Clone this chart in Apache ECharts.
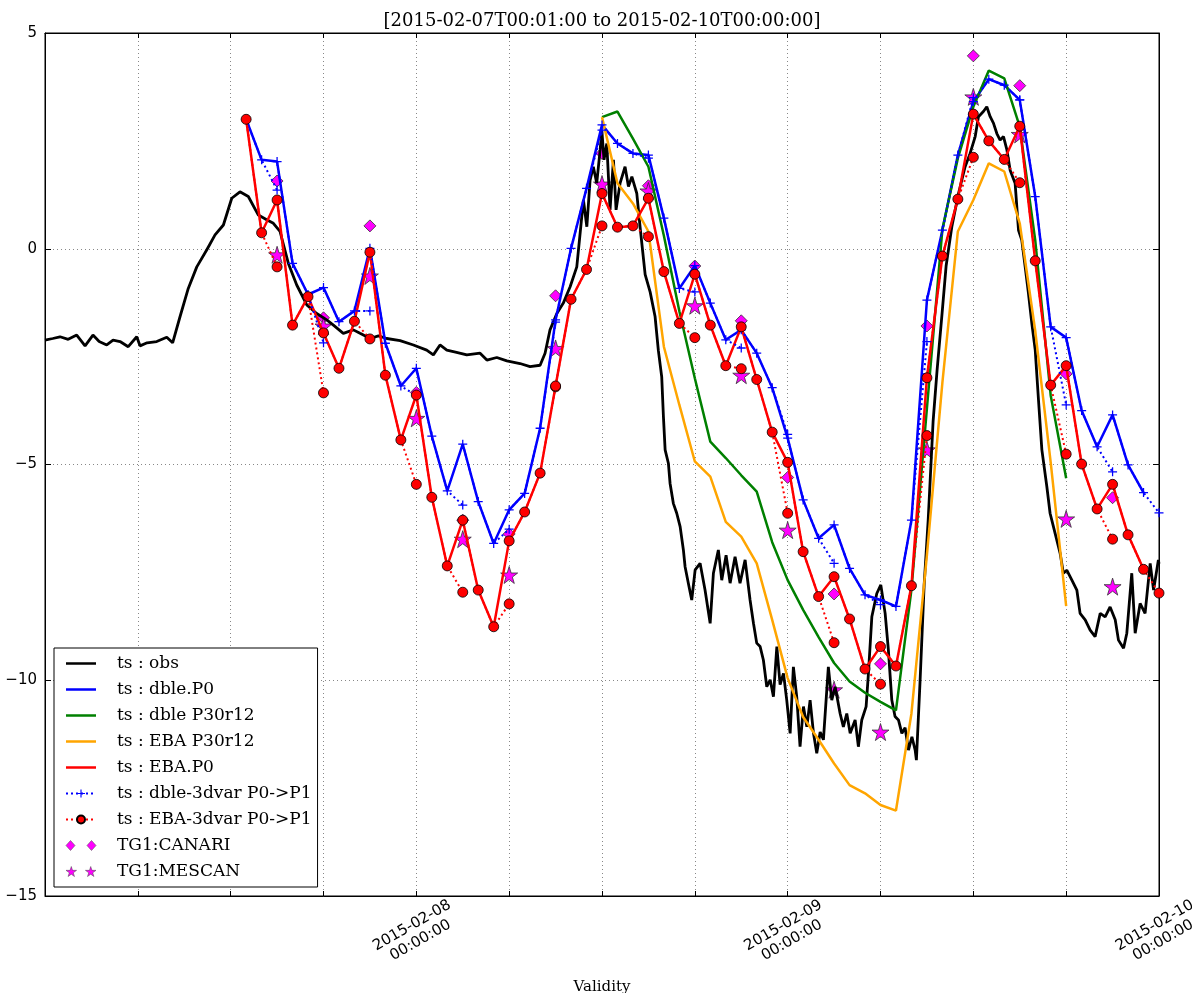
<!DOCTYPE html>
<html>
<head>
<meta charset="utf-8">
<title>ts TG1</title>
<script src="https://cdn.jsdelivr.net/npm/echarts@6/dist/echarts.min.js"></script>
<style>
  html, body { margin: 0; padding: 0; background: #fff; overflow: hidden; }
  #main { width: 1192px; height: 993px; }
</style>
</head>
<body>
<div id="main"></div>
<script>
// hours since 2015-02-07 00:00
var obsHours = [0.00,0.50,0.97,1.50,2.05,2.59,3.10,3.50,3.99,4.40,4.85,5.38,5.93,6.14,6.60,7.22,7.87,8.25,8.73,9.26,
  9.81,10.45,10.99,11.53,12.07,12.60,13.14,13.79,14.30,14.76,15.19,15.73,16.27,16.92,17.56,18.21,18.64,19.28,19.93,20.36,
  21.01,21.55,22.09,22.95,23.81,24.67,25.10,25.53,25.97,26.60,27.26,28.12,28.56,29.20,29.85,30.70,31.35,32.00,32.32,32.64,
  33.08,33.50,33.94,34.37,34.80,35.02,35.23,35.44,35.66,35.88,35.99,36.13,36.31,36.52,36.74,36.91,37.17,37.49,37.71,37.93,
  38.25,38.46,38.79,39.11,39.43,39.64,39.86,39.97,40.08,40.29,40.40,40.61,40.83,41.05,41.26,41.37,41.58,41.80,42.02,42.34,
  42.66,42.99,43.20,43.52,43.74,44.02,44.28,44.60,44.92,45.25,45.57,45.79,46.00,46.22,46.43,46.65,46.87,47.08,47.30,47.51,
  47.73,47.94,48.16,48.37,48.59,48.80,49.02,49.24,49.45,49.67,49.88,50.10,50.31,50.63,50.85,51.07,51.39,51.60,51.82,52.04,
  52.36,52.57,52.79,53.07,53.22,53.44,53.76,54.02,54.30,54.51,54.73,54.94,55.16,55.38,55.59,55.81,56.03,56.24,56.32,56.56,
  56.82,57.08,57.40,57.66,57.98,58.24,58.61,59.04,59.47,59.79,60.12,60.33,60.65,60.87,61.09,61.30,61.52,61.73,61.95,62.17,
  62.38,62.70,62.92,63.13,63.35,63.56,63.78,64.00,64.21,64.43,64.75,64.96,65.29,65.61,65.82,66.04,66.37,66.69,66.90,67.23,
  67.55,67.87,68.20,68.52,68.84,69.17,69.38,69.71,69.92,70.24,70.46,70.78,71.10,71.43,71.65,71.96,72.00];
var obsValues = [-2.12,-2.08,-2.04,-2.10,-2.00,-2.25,-2.00,-2.15,-2.23,-2.12,-2.15,-2.27,-2.04,-2.25,-2.18,-2.15,-2.05,-2.18,-1.57,-0.92,
  -0.42,-0.03,0.32,0.55,1.17,1.32,1.21,0.78,0.68,0.59,0.40,-0.34,-0.84,-1.30,-1.50,-1.65,-1.77,-1.96,-1.88,-1.96,
  -2.08,-2.02,-2.08,-2.13,-2.23,-2.35,-2.46,-2.23,-2.35,-2.40,-2.46,-2.42,-2.58,-2.52,-2.60,-2.66,-2.73,-2.70,-2.42,-1.88,
  -1.50,-1.26,-0.88,-0.42,1.13,0.51,1.59,1.90,1.52,2.29,2.75,2.06,2.44,0.90,2.06,0.90,1.52,1.90,1.44,1.67,
  1.28,0.51,-0.60,-1.00,-1.57,-2.35,-2.97,-3.89,-4.66,-4.97,-5.44,-5.90,-6.13,-6.44,-6.98,-7.37,-7.75,-8.14,-7.44,-7.29,
  -7.91,-8.68,-7.52,-6.98,-7.68,-7.10,-7.75,-7.14,-7.75,-7.21,-8.14,-8.68,-9.14,-9.22,-9.53,-10.15,-9.99,-10.38,-9.22,-10.10,
  -9.84,-10.46,-11.23,-9.69,-10.40,-11.54,-10.61,-11.08,-10.46,-11.23,-11.69,-11.20,-11.38,-9.69,-10.46,-10.15,-10.77,-11.08,-10.77,-11.23,
  -10.92,-11.54,-10.92,-10.61,-9.84,-8.53,-7.99,-7.79,-8.45,-9.30,-10.46,-10.84,-10.92,-11.23,-11.10,-11.62,-11.31,-11.62,-11.85,-10.00,
  -7.80,-6.30,-4.00,-2.80,-1.50,-0.40,0.51,1.28,1.90,2.21,2.60,3.06,3.18,3.29,3.06,2.91,2.67,2.52,2.60,2.29,
  1.82,1.52,0.43,0.20,-0.42,-1.03,-1.73,-2.35,-3.50,-4.66,-5.51,-6.13,-6.60,-7.06,-7.52,-7.45,-7.68,-7.91,-8.45,-8.60,
  -8.84,-8.99,-8.45,-8.53,-8.30,-8.60,-9.07,-9.26,-8.91,-7.52,-8.91,-8.22,-8.45,-7.29,-7.91,-7.21,-7.30];

// hourly P0 runs, from hour 13 to hour 71
var p0StartHour = 13;
var dbleP0 = [3.0,2.06,2.02,-0.34,-1.06,-0.9,-1.69,-1.44,0.01,-2.19,
  -3.18,-2.77,-4.34,-5.61,-4.53,-5.86,-6.83,-6.05,-5.67,-4.16,
  -1.65,0.01,1.4,2.87,2.44,2.21,2.17,0.71,-0.92,-0.39,
  -1.26,-2.11,-1.88,-2.42,-3.22,-4.39,-5.82,-6.71,-6.4,-7.41,
  -8.02,-8.14,-8.29,-6.29,-1.19,0.43,2.17,3.41,3.93,3.79,
  3.45,1.21,-1.81,-2.06,-3.75,-4.59,-3.85,-5.01,-5.65];
var ebaP0 = [3.0,0.37,1.13,-1.77,-1.11,-1.95,-2.77,-1.68,-0.08,-2.93,
  -4.43,-3.39,-5.76,-7.35,-6.29,-7.91,-8.76,-6.77,-6.1,-5.2,
  -3.18,-1.17,-0.48,1.28,0.5,0.53,1.17,-0.53,-1.73,-0.59,
  -1.77,-2.71,-1.81,-3.03,-4.25,-4.95,-7.02,-8.06,-7.6,-8.58,
  -9.74,-9.22,-9.67,-7.81,-2.99,-0.17,1.15,3.12,2.5,2.07,
  2.84,-0.28,-3.16,-2.71,-4.99,-6.03,-5.46,-6.63,-7.43];

// P30r12 runs, from hour 36 to hour 66
var p30StartHour = 36;
var dbleP30r12 = [3.05,3.18,2.55,1.9,0.3,-1.45,-3.0,-4.47,-4.85,-5.25,
  -5.63,-6.8,-7.68,-8.37,-9.0,-9.6,-10.03,-10.29,-10.5,-10.7,
  -7.9,-3.7,0.45,2.1,3.29,4.13,3.95,2.83,0.2,-3.4,-5.32];
var ebaP30r12 = [3.05,1.52,1.05,0.4,-2.27,-3.62,-4.93,-5.28,-6.33,-6.67,
  -7.29,-8.6,-9.95,-10.85,-11.38,-11.93,-12.43,-12.62,-12.89,-13.02,
  -10.77,-7.1,-3.1,0.4,1.13,1.98,1.79,0.59,-1.9,-4.95,-8.28];

// 3dvar P1 values (one hour after the previous P0)
var p1Hours = [15,18,21,24,27,30,33,36,39,42,45,48,51,54,57,60,63,66,69,72];
var dble3dvarP1 = [1.36,-2.18,-1.44,-3.4,-5.94,-6.5,-1.7,2.75,2.1,-1.0,-2.3,-4.3,-7.29,-8.25,-2.15,3.5,3.45,-3.62,-5.17,-6.12];
var eba3dvarP1 = [-0.42,-3.34,-2.09,-5.46,-7.96,-8.23,-3.2,0.53,0.28,-2.06,-2.78,-6.13,-9.13,-10.09,-4.33,2.12,1.53,-4.76,-6.73,-7.98];

// TG1 analyses
var tgHours = [15,18,21,24,27,30,33,36,39,42,45,48,51,54,57,60,63,66,69];
var canari = [1.57,-1.6,0.53,-3.33,-6.29,-6.61,-1.09,2.21,1.46,-0.4,-1.67,-5.3,-8.0,-9.62,-1.79,4.47,3.78,-2.9,-5.77];
var mescan = [-0.14,-1.79,-0.63,-3.93,-6.73,-7.56,-2.31,1.5,1.34,-1.32,-2.93,-6.52,-10.22,-11.2,-4.66,3.52,2.65,-6.26,-7.83];

var dayLabels = {24: '2015-02-08\n00:00:00', 48: '2015-02-09\n00:00:00', 72: '2015-02-10\n00:00:00'};

function hourly(start, vals) {
    return vals.map(function (v, i) { return [start + i, v]; });
}
function pairs(hs, vals) {
    return hs.map(function (h, i) { return [h, vals[i]]; });
}
// P0 points joined hour by hour, plus a dotted jump to P1 at each cycle
function withP1(start, p0, hs, p1) {
    var out = [];
    for (var i = 0; i < p0.length; i++) {
        var h = start + i;
        out.push([h, p0[i]]);
        var k = hs.indexOf(h + 1);
        if (k >= 0) {
            out.push([h + 1, p1[k]]);
            out.push([h + 1, '-']);
        }
    }
    return out;
}

var serif = 'DejaVu Serif';
var sans = 'DejaVu Sans';
var plusPath = 'path://M0,4.3H10V5.7H0Z M4.3,0H5.7V10H4.3Z';
var starPath = 'path://M50,0L61,35H98L68,57L79,91L50,70L21,91L32,57L2,35H39Z';
// legend icons drawn in a 30 x 10 box
var lineIcon = 'path://M0,0H30V0.01H0Z M0,9.99H30V10H0Z M0,3.8H30V6.2H0Z';
var diamondIcon = 'path://M4.5,0L9,5L4.5,10L0,5Z M25.5,0L30,5L25.5,10L21,5Z';
var starIcon = 'path://M5.28,0L6.49,3.85H10.56L7.26,6.27L8.47,10.01L5.28,7.7L2.09,10.01L3.3,6.27L0,3.85H4.07Z ' +
    'M24.72,0L25.93,3.85H30L26.7,6.27L27.91,10.01L24.72,7.7L21.53,10.01L22.74,6.27L19.44,3.85H23.51Z';
var markStyle = { color: '#ff00ff', borderColor: '#444', borderWidth: 0.5, opacity: 1 };

var myChart = echarts.init(document.getElementById('main'));
var option = {
    backgroundColor: '#fff',
    animation: false,
    graphic: [{
        type: 'text',
        x: 602, y: 21,
        style: {
            text: '[2015-02-07T00:01:00 to 2015-02-10T00:00:00]',
            font: '18px "DejaVu Serif"',
            fill: '#000',
            textAlign: 'center',
            textVerticalAlign: 'middle'
        }
    }],
    grid: {
        left: 45, right: 33, top: 33, bottom: 97,
        containLabel: false, outerBoundsMode: 'none',
        show: true, borderColor: '#000', borderWidth: 1
    },
    legend: {
        orient: 'vertical',
        left: 54, top: 648,
        backgroundColor: '#fff',
        borderColor: '#000', borderWidth: 1, borderRadius: 0,
        padding: [7, 6, 7, 11],
        itemWidth: 30, itemHeight: 10, itemGap: 9,
        textStyle: { fontFamily: serif, fontSize: 17, lineHeight: 17, color: '#000', padding: [0, 0, 0, 16] },
        data: [
            { name: 'ts : obs', icon: lineIcon },
            { name: 'ts : dble.P0', icon: lineIcon },
            { name: 'ts : dble P30r12', icon: lineIcon },
            { name: 'ts : EBA P30r12', icon: lineIcon },
            { name: 'ts : EBA.P0', icon: lineIcon },
            { name: 'ts : dble-3dvar P0->P1' },
            { name: 'ts : EBA-3dvar P0->P1' },
            { name: 'TG1:CANARI', icon: diamondIcon, itemStyle: markStyle },
            { name: 'TG1:MESCAN', icon: starIcon, itemStyle: markStyle }
        ]
    },
    xAxis: [{
        type: 'value', min: 0, max: 72, interval: 6,
        name: 'Validity', nameLocation: 'middle', nameGap: 84,
        nameTextStyle: { fontFamily: serif, fontSize: 15, color: '#000' },
        axisLine: { show: true, onZero: false, lineStyle: { color: '#000' } },
        axisTick: { inside: true, length: 5, lineStyle: { color: '#000' } },
        axisLabel: {
            rotate: 30, align: 'center', verticalAlign: 'middle', margin: 37,
            fontFamily: sans, fontSize: 15, color: '#000', lineHeight: 17,
            formatter: function (v) { return dayLabels[v] || ''; }
        },
        splitLine: { show: true, lineStyle: { color: '#888', type: [1, 3], width: 1 } }
    }, {
        type: 'value', min: 0, max: 72, interval: 6, position: 'top',
        axisLine: { show: true, onZero: false, lineStyle: { color: '#000' } },
        axisTick: { inside: true, length: 5, lineStyle: { color: '#000' } },
        axisLabel: { show: false }, splitLine: { show: false }
    }],
    yAxis: [{
        type: 'value', min: -15, max: 5, interval: 5,
        axisLine: { show: true, onZero: false, lineStyle: { color: '#000' } },
        axisTick: { inside: true, length: 6, lineStyle: { color: '#000' } },
        axisLabel: {
            fontFamily: sans, fontSize: 15, color: '#000', margin: 8,
            formatter: function (v) { return String(v).replace('-', '\u2212'); }
        },
        splitLine: { show: true, lineStyle: { color: '#888', type: [1, 3], width: 1 } }
    }, {
        type: 'value', min: -15, max: 5, interval: 5, position: 'right',
        axisLine: { show: true, onZero: false, lineStyle: { color: '#000' } },
        axisTick: { inside: true, length: 6, lineStyle: { color: '#000' } },
        axisLabel: { show: false }, splitLine: { show: false }
    }],
    series: [{
        name: 'ts : obs', type: 'line', symbol: 'none',
        itemStyle: { color: '#000' },
        lineStyle: { color: '#000', width: 2.8 },
        data: pairs(obsHours, obsValues)
    }, {
        name: 'ts : dble.P0', type: 'line', symbol: 'none',
        itemStyle: { color: '#0000ff' },
        lineStyle: { color: '#0000ff', width: 2.5 },
        data: hourly(p0StartHour, dbleP0)
    }, {
        name: 'ts : dble P30r12', type: 'line', symbol: 'none',
        itemStyle: { color: '#008000' },
        lineStyle: { color: '#008000', width: 2.5 },
        data: hourly(p30StartHour, dbleP30r12)
    }, {
        name: 'ts : EBA P30r12', type: 'line', symbol: 'none',
        itemStyle: { color: '#ffa500' },
        lineStyle: { color: '#ffa500', width: 2.5 },
        data: hourly(p30StartHour, ebaP30r12)
    }, {
        name: 'ts : EBA.P0', type: 'line', symbol: 'none',
        itemStyle: { color: '#ff0000' },
        lineStyle: { color: '#ff0000', width: 2.5 },
        data: hourly(p0StartHour, ebaP0)
    }, {
        name: 'ts : dble-3dvar P0->P1', type: 'line',
        symbol: plusPath, symbolSize: 9, showAllSymbol: true,
        itemStyle: { color: '#0000ff' },
        lineStyle: { color: '#0000ff', width: 2, type: [2, 3] },
        data: withP1(p0StartHour, dbleP0, p1Hours, dble3dvarP1)
    }, {
        name: 'ts : EBA-3dvar P0->P1', type: 'line',
        symbol: 'circle', symbolSize: 10, showAllSymbol: true,
        itemStyle: { color: '#ff0000', borderColor: '#000', borderWidth: 0.8 },
        lineStyle: { color: '#ff0000', width: 2, type: [2, 3] },
        data: withP1(p0StartHour, ebaP0, p1Hours, eba3dvarP1)
    }, {
        name: 'TG1:CANARI', type: 'scatter',
        symbol: 'diamond', symbolSize: 12,
        itemStyle: { color: '#ff00ff', borderColor: '#333', borderWidth: 0.8, opacity: 1 },
        data: pairs(tgHours, canari)
    }, {
        name: 'TG1:MESCAN', type: 'scatter',
        symbol: starPath, symbolSize: 17,
        itemStyle: { color: '#ff00ff', borderColor: '#333', borderWidth: 0.8, opacity: 1 },
        data: pairs(tgHours, mescan)
    }]
};
myChart.setOption(option);
window.addEventListener('resize', function () {
    myChart.resize();
});
</script>
</body>
</html>
